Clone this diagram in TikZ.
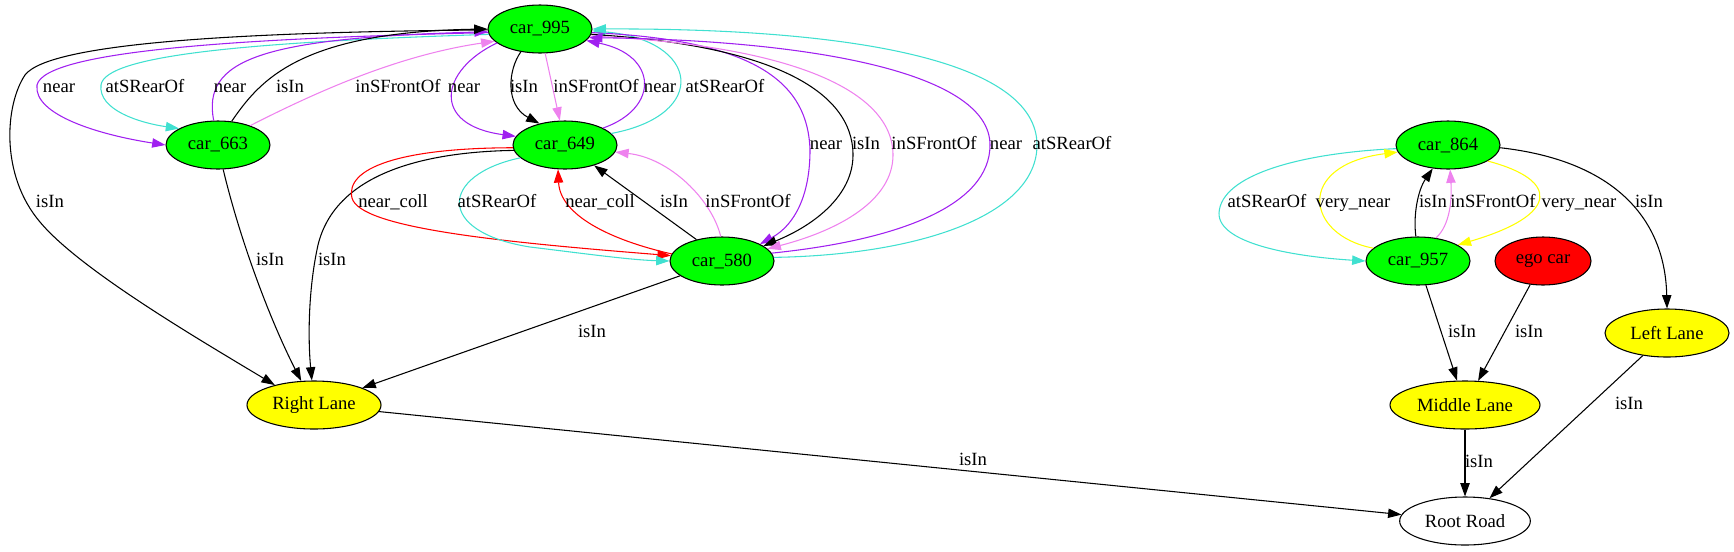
\documentclass[tikz,border=0pt]{standalone}
\usepackage{fontspec}
\setmainfont{Liberation Serif}
\usetikzlibrary{shapes.geometric,arrows.meta}
\definecolor{gvgreen}{RGB}{0,255,0}
\definecolor{gvpurple}{RGB}{160,32,240}
\definecolor{gvturq}{RGB}{64,224,208}
\definecolor{gvviolet}{RGB}{238,130,238}
\definecolor{gvyellow}{RGB}{255,255,0}
\definecolor{gvred}{RGB}{255,0,0}
\tikzset{
  nd/.style={ellipse, draw, line width=0.8pt, inner sep=0pt, minimum height=36pt, font=\fontsize{14}{16}\selectfont},
  carnode/.style={nd, fill=gvgreen, minimum width=78pt},
  lanenode/.style={nd, fill=gvyellow},
  lbl/.style={inner sep=0pt, anchor=base, font=\fontsize{14}{16}\selectfont, yshift=-3.75pt},
  edge/.style={line width=0.8pt, -{Triangle[length=10pt,width=7pt]}},
}
\begin{document}
\begin{tikzpicture}[x=0.75pt,y=-0.75pt]
\useasboundingbox (0,0) rectangle (1734,551);
% nodes
\node[carnode] (n995) at (540,29) {car\_995};
\node[carnode] (n663) at (218,145) {car\_663};
\node[carnode] (n649) at (565,145) {car\_649};
\node[carnode] (n580) at (722,261) {car\_580};
\node[lanenode, minimum width=100.5pt] (nRL) at (314,405) {Right Lane};
\node[carnode] (n864) at (1448,145) {car\_864};
\node[carnode] (n957) at (1418,261) {car\_957};
\node[nd, fill=gvred, minimum width=72pt] (nego) at (1543,261) {ego car};
\node[lanenode, minimum width=93pt] (nLL) at (1667,333) {Left Lane};
\node[lanenode, minimum width=112.5pt] (nML) at (1465,405) {Middle Lane};
\node[nd, fill=white, minimum width=98pt] (nRR) at (1465,521) {Root Road};

% car_995 <-> car_663
\draw[edge, gvpurple] (n995.184) .. controls (250,38) and (45,50) .. (37,85) .. controls (33,115) and (100,135) .. (n663.west);
\draw[edge, gvturq] (n995.186) .. controls (250,42) and (105,55) .. (101,85) .. controls (98,110) and (140,123) .. (n663.157);
\draw[edge, gvpurple] (n663.100) .. controls (202,60) and (260,38) .. (n995.183);
\draw[edge, black] (n663.60) .. controls (260,80) and (300,32) .. (n995.west);
\draw[edge, gvviolet] (n663.31) .. controls (320,90) and (400,55) .. (n995.195);
% car_995 -> Right Lane
\draw[edge, black] (n995.181) .. controls (250,32) and (50,42) .. (25,75) .. controls (5,105) and (0,175) .. (40,222) .. controls (80,270) and (200,340) .. (nRL.153);
% car_663 -> Right Lane
\draw[edge, black] (n663.282) .. controls (240,240) and (270,320) .. (nRL.118);
% car_649 -> Right Lane
\draw[edge, black] (n649.186) .. controls (420,152) and (335,175) .. (318,245) .. controls (308,290) and (308,340) .. (nRL.95);
% car_649 <-> car_580
\draw[edge, gvred] (n649.183) .. controls (400,148) and (345,168) .. (352,198) .. controls (360,228) and (500,242) .. (n580.174);
\draw[edge, gvturq] (n649.196) .. controls (440,175) and (435,232) .. (530,247) .. controls (580,253) and (630,260) .. (n580.west);
\draw[edge, gvred] (n580.172) .. controls (610,240) and (560,215) .. (n649.254);
\draw[edge, black] (n580.140) -- (n649.325);
\draw[edge, gvviolet] (n580.93) .. controls (712,200) and (670,158) .. (n649.352);
% car_995 <-> car_649
\draw[edge, gvpurple] (n995.198) .. controls (440,70) and (430,125) .. (n649.170);
\draw[edge, black] (n995.230) .. controls (508,70) and (505,105) .. (n649.140);
\draw[edge, gvviolet] (n995.282) -- (n649.102);
\draw[edge, gvpurple] (n649.24) .. controls (660,108) and (658,55) .. (n995.-14);
\draw[edge, gvturq] (n649.14) .. controls (710,115) and (700,40) .. (n995.-2);
% car_995 <-> car_580
\draw[edge, gvpurple] (n995.-4) .. controls (760,40) and (808,85) .. (810,150) .. controls (810,195) and (795,225) .. (n580.24);
\draw[edge, black] (n995.-6) .. controls (770,45) and (853,90) .. (853,155) .. controls (853,195) and (815,225) .. (n580.20);
\draw[edge, gvviolet] (n995.-8) .. controls (790,45) and (893,90) .. (893,155) .. controls (893,200) and (840,230) .. (n580.15);
\draw[edge, gvpurple] (n580.9) .. controls (900,240) and (990,205) .. (990,145) .. controls (990,70) and (800,40) .. (n995.-10);
\draw[edge, gvturq] (n580.4) .. controls (920,255) and (1037,215) .. (1037,145) .. controls (1037,60) and (850,28) .. (n995.0);
% straight
\draw[edge, black] (n580) -- (nRL);
\draw[edge, black] (nRL) -- (nRR);
% right group
\draw[edge, gvturq] (n864.184) .. controls (1300,153) and (1221,175) .. (1219,213) .. controls (1218,245) and (1300,257) .. (n957.west);
\draw[edge, gvyellow] (n957.164) .. controls (1305,235) and (1295,165) .. (n864.188);
\draw[edge, black] (n957.95) .. controls (1413,215) and (1418,190) .. (n864.237);
\draw[edge, gvviolet] (n957.52) .. controls (1450,225) and (1452,200) .. (n864.-85);
\draw[edge, gvyellow] (n864.-22) .. controls (1560,180) and (1560,215) .. (n957.22);
\draw[edge, black] (n864.-3) .. controls (1610,160) and (1665,215) .. (nLL.north);
\draw[edge, black] (n957) -- (nML);
\draw[edge, black] (nego) -- (nML);
\draw[edge, black] (nML) -- (nRR);
\draw[edge, black] (nLL) -- (nRR);

% labels (positioned by baseline)
\node[lbl] (l1) at (59,87) {near};
\node[lbl] (l2) at (145,87) {atSRearOf};
\node[lbl] (l3) at (230,87) {near};
\node[lbl] (l4) at (290,87) {isIn};
\node[lbl] (l5) at (398,87) {inSFrontOf};
\node[lbl] (l6) at (464,87) {near};
\node[lbl] (l7) at (524,87) {isIn};
\node[lbl] (l8) at (596,87) {inSFrontOf};
\node[lbl] (l9) at (660,87) {near};
\node[lbl] (l10) at (725,87) {atSRearOf};
\node[lbl] (l11) at (50,202) {isIn};
\node[lbl] (l12) at (270,260) {isIn};
\node[lbl] (l13) at (332,260) {isIn};
\node[lbl] (l14) at (393,202) {near\_coll};
\node[lbl] (l15) at (497,202) {atSRearOf};
\node[lbl] (l16) at (600,202) {near\_coll};
\node[lbl] (l17) at (674,202) {isIn};
\node[lbl] (l18) at (748,202) {inSFrontOf};
\node[lbl] (l19) at (826,144) {near};
\node[lbl] (l20) at (866,144) {isIn};
\node[lbl] (l21) at (934,144) {inSFrontOf};
\node[lbl] (l22) at (1006,144) {near};
\node[lbl] (l23) at (1072,144) {atSRearOf};
\node[lbl] (l24) at (592,332) {isIn};
\node[lbl] (l25) at (973,460) {isIn};
\node[lbl] (l26) at (1267,202) {atSRearOf};
\node[lbl] (l27) at (1353,202) {very\_near};
\node[lbl] (l28) at (1433,202) {isIn};
\node[lbl] (l29) at (1493,202) {inSFrontOf};
\node[lbl] (l30) at (1579,202) {very\_near};
\node[lbl] (l31) at (1649,202) {isIn};
\node[lbl] (l32) at (1462,332) {isIn};
\node[lbl] (l33) at (1529,332) {isIn};
\node[lbl] (l34) at (1629,404) {isIn};
\node[lbl] (l35) at (1479,462) {isIn};
\end{tikzpicture}
\end{document}
